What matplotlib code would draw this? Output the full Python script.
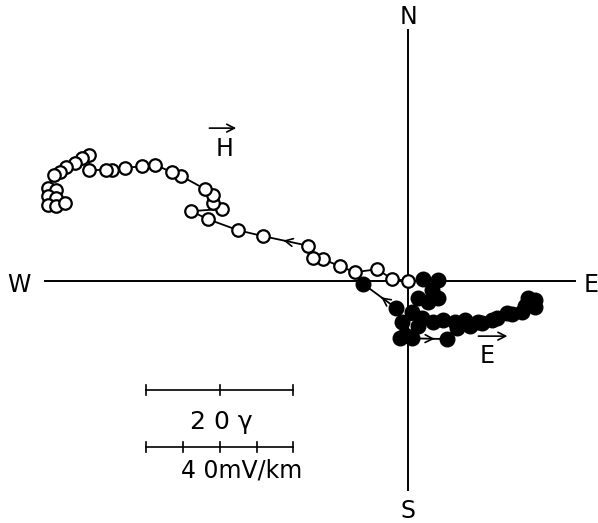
import matplotlib
matplotlib.use("Agg")
import matplotlib.pyplot as plt
import numpy as np

# Hodograph of H (open circles) and E (filled circles), units: gamma (H) / scaled mV/km (E)
h_x = [0.0, -2.2, -4.2, -7.2, -9.3, -11.6, -12.9, -13.6, -19.7, -23.1, -27.2, -29.5,
       -25.3, -26.5, -26.5, -27.6, -30.9, -32.1, -34.4, -36.2, -38.5, -40.3, -41.1,
       -43.4, -43.4, -44.4, -45.3, -46.5, -47.3, -48.2, -49.0, -47.9, -49.0, -47.9,
       -49.0, -47.9, -46.7]
h_y = [0.0, 0.3, 1.6, 1.2, 2.0, 3.0, 3.1, 4.8, 6.1, 6.9, 8.4, 9.5,
       9.8, 10.6, 11.7, 12.5, 14.3, 14.8, 15.8, 15.6, 15.4, 15.1, 15.1,
       15.1, 17.1, 16.7, 16.1, 15.5, 14.8, 14.4, 12.7, 12.4, 11.6, 11.3,
       10.3, 10.2, 10.6]

e_x = [2.0, 4.1, 3.3, 4.1, 2.7, 1.4, 0.5, 1.4, -0.4, -1.1, 0.5, 5.3, 6.7, 8.4,
       10.1, 12.1, 13.5, 15.5, 17.3, 17.3, 16.3, 15.9, 14.1, 11.4, 9.5, 7.8,
       6.4, 4.8, 3.4, 1.9, -0.8, -1.6, -6.1]
e_y = [0.3, 0.1, -1.2, -2.3, -2.9, -2.3, -4.2, -6.1, -7.3, -7.8, -7.8, -7.9, -6.4, -6.1,
       -5.7, -5.0, -4.4, -4.2, -3.5, -2.6, -2.3, -3.4, -4.5, -5.3, -5.6, -5.3,
       -5.6, -5.3, -5.6, -5.0, -5.6, -3.7, -0.4]

h_arrow_seg = 7     # direction arrow on segment 7 -> 8 of H
e_arrow_segs = [10, 31]

axis_labels = ["N", "S", "W", "E"]
scale_label_h = "2 0 γ"
scale_label_e = "4 0mV/km"

fig = plt.figure(figsize=(5.98, 5.23), dpi=100)
ax = fig.add_axes([0, 0, 1, 1])
s = 7.35  # px per unit
ax.set_xlim(-408 / s, (598 - 408) / s)
ax.set_ylim((281 - 523) / s, 281 / s)
ax.axis("off")

# axes cross
ax.plot([0, 0], [34.1, -28.4], color="black", lw=1.4, zorder=1)
ax.plot([-49.4, 22.7], [0, 0], color="black", lw=1.4, zorder=1)
fs = 17
ax.text(0, 35.9, axis_labels[0], ha="center", va="center", fontsize=fs)
ax.text(0, -31.3, axis_labels[1], ha="center", va="center", fontsize=fs)
ax.text(-53.0, -0.6, axis_labels[2], ha="center", va="center", fontsize=fs)
ax.text(24.9, -0.6, axis_labels[3], ha="center", va="center", fontsize=fs)

# H path
ax.plot(h_x, h_y, color="black", lw=1.3, zorder=2)
ax.plot(h_x, h_y, "o", ms=9, mfc="white", mec="black", mew=1.6, zorder=3)

# E path
ax.plot(e_x, e_y, color="black", lw=1.3, zorder=2)
ax.plot(e_x, e_y, "o", ms=10.5, mfc="black", mec="black", zorder=3)

def seg_arrow(xs, ys, i, f=0.5):
    x0, y0, x1, y1 = xs[i], ys[i], xs[i + 1], ys[i + 1]
    tx, ty = x0 + (f - 0.05) * (x1 - x0), y0 + (f - 0.05) * (y1 - y0)
    hx, hy = x0 + (f + 0.05) * (x1 - x0), y0 + (f + 0.05) * (y1 - y0)
    ax.annotate("", xy=(hx, hy), xytext=(tx, ty),
                arrowprops=dict(arrowstyle="->,head_length=0.55,head_width=0.28",
                                color="black", lw=1.2), zorder=4)

seg_arrow(h_x, h_y, h_arrow_seg)
seg_arrow(e_x, e_y, e_arrow_segs[0], 0.6)
seg_arrow(e_x, e_y, e_arrow_segs[1], 0.4)

# vector labels
ax.text(-24.9, 18.0, "H", ha="center", va="center", fontsize=fs)
ax.annotate("", xy=(-23.0, 20.8), xytext=(-27.4, 20.8),
            arrowprops=dict(arrowstyle="->,head_length=0.55,head_width=0.28", color="black", lw=1.2))
ax.text(10.7, -10.2, "E", ha="center", va="center", fontsize=fs)
ax.annotate("", xy=(13.9, -7.5), xytext=(9.2, -7.5),
            arrowprops=dict(arrowstyle="->,head_length=0.55,head_width=0.28", color="black", lw=1.2))

# scale bars
x0b, x1b = -35.6, -15.6
yb1, yb2 = -14.8, -22.6
th = 0.7
ax.plot([x0b, x1b], [yb1, yb1], color="black", lw=1.2)
for xt in np.linspace(x0b, x1b, 3):
    ax.plot([xt, xt], [yb1 - th, yb1 + th], color="black", lw=1.2)
ax.plot([x0b, x1b], [yb2, yb2], color="black", lw=1.2)
for xt in np.linspace(x0b, x1b, 5):
    ax.plot([xt, xt], [yb2 - th, yb2 + th], color="black", lw=1.2)
ax.text(-25.4, -19.2, scale_label_h, ha="center", va="center", fontsize=18)
ax.text(-22.6, -25.8, scale_label_e, ha="center", va="center", fontsize=17)

fig.savefig("out.png", dpi=100)
